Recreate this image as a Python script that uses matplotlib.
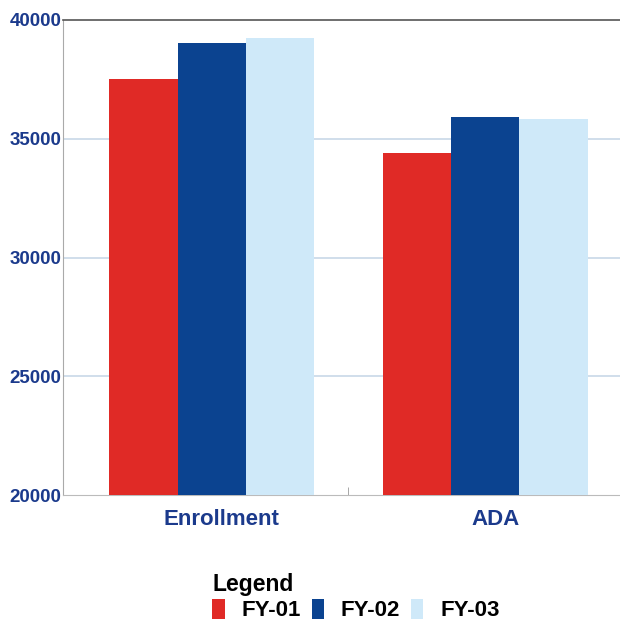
import matplotlib
matplotlib.use("Agg")
import matplotlib.pyplot as plt
import matplotlib.transforms as mtransforms
from matplotlib.patches import Patch
import numpy as np

plt.rcParams['font.family'] = ['Liberation Sans', 'DejaVu Sans']

categories = ["Enrollment", "ADA"]
series_names = ["FY-01", "FY-02", "FY-03"]
fy01 = [37500, 34400]
fy02 = [39050, 35900]
fy03 = [39250, 35850]
colors = ["#e02a26", "#0b4390", "#cfe9f9"]
yticks = [20000, 25000, 30000, 35000, 40000]

fig = plt.figure(figsize=(6.2, 6.23), dpi=100)
ax = fig.add_axes([63/620, 1-495/623, 1-63/620, (495-20)/623])

x = np.arange(len(categories))
w = 0.25
for i, (vals, c) in enumerate(zip([fy01, fy02, fy03], colors)):
    ax.bar(x + (i-1)*w, [v - 20000 for v in vals], w, bottom=20000, color=c, zorder=3, linewidth=0)

ax.set_ylim(20000, 40000)
ax.set_xlim(-0.544, 1.493)
ax.set_yticks(yticks)
ax.set_yticklabels([str(t) for t in yticks])
ax.set_xticks(x)
ax.set_xticklabels(categories)
ax.set_xticks([0.5], minor=True)
ax.tick_params(axis='x', which='major', length=0, pad=10, labelsize=16, labelcolor="#1b3a8c")
ax.tick_params(axis='x', which='minor', length=6, direction='in', color="#999999")
ax.tick_params(axis='y', length=0, pad=1, labelsize=13.5, labelcolor="#1b3a8c")
for lab in ax.get_xticklabels() + ax.get_yticklabels():
    lab.set_fontweight('bold')
shift = mtransforms.ScaledTranslation(10/100, 0, fig.dpi_scale_trans)
for lab in ax.get_xticklabels():
    lab.set_transform(lab.get_transform() + shift)

for t in [25000, 30000, 35000]:
    ax.axhline(t, color="#c8d8e8", linewidth=1.2, zorder=1)
ax.spines['top'].set_color("#555555")
ax.spines['top'].set_linewidth(1.2)
ax.spines['right'].set_visible(False)
ax.spines['left'].set_color("#aaaaaa")
ax.spines['left'].set_linewidth(0.8)
ax.spines['bottom'].set_color("#bbbbbb")
ax.spines['bottom'].set_linewidth(0.8)

handles = [Patch(facecolor=c, edgecolor='none') for c in colors]
leg = fig.legend(handles, series_names, loc='center', bbox_to_anchor=(356/620, 1-597/623),
                 ncol=3, frameon=False, title="Legend", handlelength=0.55, handleheight=1.0,
                 handletextpad=0.75, columnspacing=0.5, labelspacing=0.1,
                 prop={'weight': 'bold', 'size': 16},
                 title_fontproperties={'weight': 'bold', 'size': 16.5})
leg._legend_box.align = "left"
leg._legend_box.sep = 2

fig.savefig("out.png", dpi=100)
